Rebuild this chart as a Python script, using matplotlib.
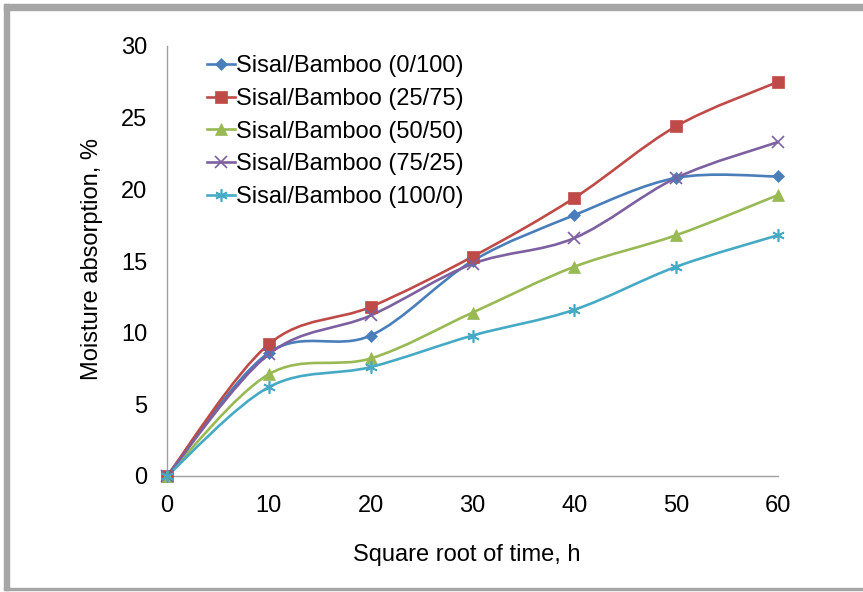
import matplotlib.pyplot as plt
import numpy as np
from matplotlib.path import Path
from matplotlib.patches import PathPatch, Rectangle
from matplotlib.lines import Line2D

plt.rcParams['font.family'] = ['Liberation Sans', 'DejaVu Sans']

# data
time = [0, 10, 20, 30, 40, 50, 60]
s0_100 = [0, 8.6, 9.8, 15.0, 18.2, 20.8, 20.9]
s25_75 = [0, 9.2, 11.8, 15.3, 19.4, 24.4, 27.5]
s50_50 = [0, 7.1, 8.2, 11.4, 14.6, 16.8, 19.6]
s75_25 = [0, 8.5, 11.2, 14.8, 16.6, 20.8, 23.3]
s100_0 = [0, 6.2, 7.6, 9.8, 11.6, 14.6, 16.8]

labels = ['Sisal/Bamboo (0/100)', 'Sisal/Bamboo (25/75)', 'Sisal/Bamboo (50/50)',
          'Sisal/Bamboo (75/25)', 'Sisal/Bamboo (100/0)']
colors = ['#4A7EBB', '#BE4B48', '#98B954', '#7D60A0', '#46AAC5']
markers = ['D', 's', '^', 'x', (6, 2, 0)]
msizes = [6, 8, 8, 8, 9]
linewidth = 1.9
fontsize = 17


def smooth_path(x, y):
    """Excel-like smoothed line as cubic bezier segments through the points."""
    p = np.column_stack([x, y]).astype(float)
    ext = np.vstack([p[0], p, p[-1]])
    verts = [p[0]]
    codes = [Path.MOVETO]
    for i in range(len(p) - 1):
        c1 = ext[i + 1] + (ext[i + 2] - ext[i]) / 6.0
        c2 = ext[i + 2] - (ext[i + 3] - ext[i + 1]) / 6.0
        verts += [c1, c2, p[i + 1]]
        codes += [Path.CURVE4] * 3
    return Path(verts, codes)


fig = plt.figure(figsize=(8.63, 5.92), dpi=100)
ax = fig.add_axes([167 / 863, 1 - 476 / 592, (778 - 167) / 863, (476 - 46) / 592])

series = [s0_100, s25_75, s50_50, s75_25, s100_0]
handles = []
for vals, lab, col, mk, ms in zip(series, labels, colors, markers, msizes):
    mew = 1.2 if mk in ('x', (6, 2, 0)) else 0.5
    ax.add_patch(PathPatch(smooth_path(time, vals), facecolor='none',
                           edgecolor=col, linewidth=linewidth, zorder=2))
    ax.plot(time, vals, linestyle='none', marker=mk, markersize=ms, color=col,
            markeredgewidth=mew, zorder=3, clip_on=False)
    handles.append(Line2D([], [], color=col, linewidth=linewidth, marker=mk,
                          markersize=ms, markeredgewidth=mew))

ax.set_xlim(0, 60)
ax.set_ylim(0, 30)
ax.set_xticks(range(0, 61, 10))
ax.set_yticks(range(0, 31, 5))
ax.tick_params(length=0, labelsize=fontsize)
ax.tick_params(axis='y', pad=14)
ax.tick_params(axis='x', pad=14)
for side in ['top', 'right']:
    ax.spines[side].set_visible(False)
for side in ['left', 'bottom']:
    ax.spines[side].set_color('#A0A0A0')
    ax.spines[side].set_linewidth(1.0)

fig.text(467 / 863, 1 - 555 / 592, 'Square root of time, h', ha='center', va='center',
         fontsize=fontsize)
fig.text(92 / 863, 1 - 259 / 592, 'Moisture absorption, %', ha='center', va='center',
         rotation=90, fontsize=fontsize)

fig.legend(handles=handles, labels=labels, loc='upper left',
           bbox_to_anchor=(198 / 863, 1 - 46 / 592), frameon=False, fontsize=fontsize,
           handlelength=1.15, handletextpad=0.08, labelspacing=0.45, borderaxespad=0)

# grey frame around the chart (right edge is cropped in the reference)
border = '#A6A6A6'
fig.patches.append(Rectangle((4 / 863, 2 / 592), 5 / 863, 586 / 592,
                             transform=fig.transFigure, color=border, zorder=0))
fig.patches.append(Rectangle((4 / 863, 1 - 10 / 592), 859 / 863, 6 / 592,
                             transform=fig.transFigure, color=border, zorder=0))
fig.patches.append(Rectangle((4 / 863, 2 / 592), 859 / 863, 2 / 592,
                             transform=fig.transFigure, color=border, zorder=0))

plt.savefig('out.png', dpi=100)
